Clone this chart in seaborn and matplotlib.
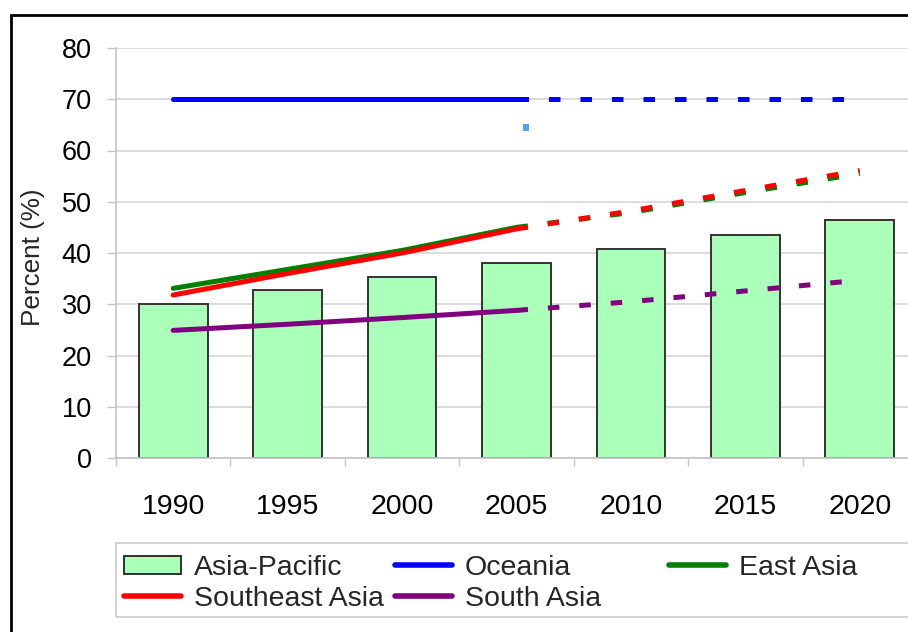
import numpy as np
import matplotlib
matplotlib.use("Agg")
import matplotlib.pyplot as plt
from matplotlib.patches import Patch, Rectangle
from matplotlib.lines import Line2D
import seaborn as sns

# Urbanisation shares (%) by region, observed to 2005 and projected to 2020
years = ["1990", "1995", "2000", "2005", "2010", "2015", "2020"]
asia_pacific = [30.0, 32.7, 35.4, 38.1, 40.8, 43.5, 46.5]
oceania = [70.0, 70.0, 70.0, 70.0, 70.0, 70.0, 70.0]
east_asia = [33.1, 36.8, 40.5, 45.0, 47.9, 51.8, 55.5]
southeast_asia = [31.8, 36.0, 40.0, 44.7, 48.2, 52.2, 56.1]
south_asia = [24.9, 26.1, 27.4, 28.8, 30.5, 32.6, 34.7]
oceania_point = [64.5]
last_observed = 3  # index of 2005; later values are projections

sns.set_theme(style="white")
plt.rcParams["font.family"] = ["Liberation Sans", "DejaVu Sans"]

W, H = 908, 632
fig = plt.figure(figsize=(W / 100, H / 100), dpi=100)
ax = fig.add_axes([116 / W, 174 / H, 801 / W, 410 / H])

sns.barplot(x=years, y=asia_pacific, color="#aaffb9", saturation=1,
            edgecolor="#333333", linewidth=1.4, width=0.6, ax=ax)

pos = np.arange(len(years))
series = [(oceania, "#0000ff"), (east_asia, "#008000"),
          (southeast_asia, "#ff0000"), (south_asia, "#800080")]
for vals, col in series:
    vals = np.asarray(vals)
    sns.lineplot(x=pos[:last_observed + 1], y=vals[:last_observed + 1],
                 color=col, lw=3.6, errorbar=None, ax=ax, zorder=3)
    sns.lineplot(x=pos[last_observed:], y=vals[last_observed:],
                 color=col, lw=3.6, errorbar=None, ax=ax, zorder=3,
                 linestyle=(0, (2.3, 4.0)), solid_capstyle="butt",
                 dash_capstyle="butt")

sns.scatterplot(x=[pos[last_observed] + 0.08], y=oceania_point, marker="s",
                s=20, color="#55a0ff", edgecolor="none", ax=ax, zorder=4)

ax.set_xlim(-0.5, 6.5)
ax.set_ylim(0, 80)
ax.set_yticks(np.arange(0, 81, 10))
ax.set_xticks(pos)
ax.set_xticklabels(years)
ax.set_xticks(np.arange(-0.5, 7, 1), minor=True)
ax.set_xlabel("")
ax.set_ylabel("")

grey = "#c4c4c4"
ax.yaxis.grid(True, color="#d6d6d6", lw=1.2)
ax.set_axisbelow(True)
sns.despine(ax=ax, top=True, right=True)
for s in ("left", "bottom"):
    ax.spines[s].set_color(grey)
    ax.spines[s].set_linewidth(1.2)
ax.tick_params(axis="y", left=True, length=6.5, width=1.0, color=grey,
               pad=11, labelsize=19.5, labelcolor="black")
ax.tick_params(axis="x", which="major", bottom=True, length=0, pad=26,
               labelsize=20.5, labelcolor="black")
ax.tick_params(axis="x", which="minor", bottom=True, length=6, width=1.0,
               color=grey)

fig.text(33 / W, 1 - 257 / H, "Percent (%)", rotation=90, ha="center",
         va="center", fontsize=18.8)

# legend box and three legend columns
fig.patches.append(Rectangle((116 / W, (H - 617) / H), (940 - 116) / W, 74 / H,
                             transform=fig.transFigure, fill=False,
                             edgecolor="#cccccc", lw=1.2))
cols = [
    ([Patch(facecolor="#aaffb9", edgecolor="#222222", lw=1.3),
      Line2D([], [], color="#ff0000", lw=4)], ["Asia-Pacific", "Southeast Asia"], 124),
    ([Line2D([], [], color="#0000ff", lw=4),
      Line2D([], [], color="#800080", lw=4)], ["Oceania", "South Asia"], 395),
    ([Line2D([], [], color="#008000", lw=4)], ["East Asia"], 669),
]
for handles, labels, x0 in cols:
    fig.legend(handles, labels, loc="upper left",
               bbox_to_anchor=(x0 / W, 1 - 555 / H), frameon=False,
               fontsize=20.5, borderpad=0, borderaxespad=0,
               handlelength=2.0, handleheight=0.6, handletextpad=0.45,
               labelspacing=0.17)

# outer frame
fig.patches.append(Rectangle((11 / W, -0.2), 1.5, 1.2 - 15 / H,
                             transform=fig.transFigure, fill=False,
                             edgecolor="black", lw=2))

fig.savefig("out.png", dpi=100)
